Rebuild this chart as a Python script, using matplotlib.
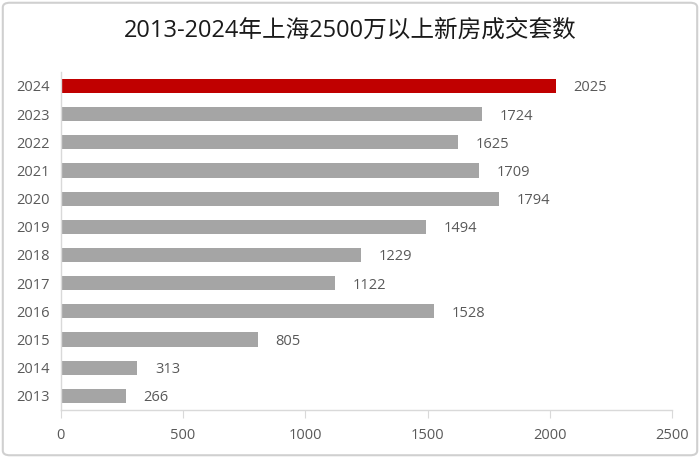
import matplotlib
matplotlib.use("Agg")
import matplotlib.pyplot as plt
from matplotlib.patches import FancyBboxPatch

plt.rcParams['font.family'] = ['Open Sans', 'Noto Sans CJK SC', 'DejaVu Sans']

years = ['2013', '2014', '2015', '2016', '2017', '2018', '2019', '2020', '2021', '2022', '2023', '2024']
values = [266, 313, 805, 1528, 1122, 1229, 1494, 1794, 1709, 1625, 1724, 2025]
title = '2013-2024年上海2500万以上新房成交套数'
xticks = [0, 500, 1000, 1500, 2000, 2500]

fig = plt.figure(figsize=(7, 4.58), dpi=100)
ax = fig.add_axes([0.087, 0.105, 0.873, 0.738])

colors = ['#A5A5A5'] * (len(years) - 1) + ['#C00000']
ypos = list(range(len(years)))
ax.barh(ypos, values, height=0.5, color=colors)
for y, v in zip(ypos, values):
    ax.text(v + 72, y, str(v), va='center_baseline', ha='left', fontsize=10.5, color='#595959')

ax.set_xlim(0, 2500)
ax.set_ylim(-0.5, len(years) - 0.5)
ax.set_yticks(ypos)
ax.set_yticklabels(years, fontsize=10.5, color='#595959', va='center_baseline')
ax.set_xticks(xticks)
ax.set_xticklabels([str(t) for t in xticks], fontsize=10.5, color='#595959')
ax.tick_params(axis='y', length=0, pad=8)
ax.tick_params(axis='x', length=6, color='#D9D9D9', direction='out', pad=7)
for s in ['top', 'right']:
    ax.spines[s].set_visible(False)
for s in ['left', 'bottom']:
    ax.spines[s].set_color('#D9D9D9')
    ax.spines[s].set_linewidth(1)

fig.text(0.5, 0.932, title, ha='center', va='center', fontsize=17, color='#1a1a1a')

border = FancyBboxPatch((0.004, 0.006), 0.992, 0.988, boxstyle='round,pad=0,rounding_size=0.01',
                        transform=fig.transFigure, fill=False, edgecolor='#D0D0D0', linewidth=1.5)
fig.patches.append(border)

fig.savefig('out.png', dpi=100)
